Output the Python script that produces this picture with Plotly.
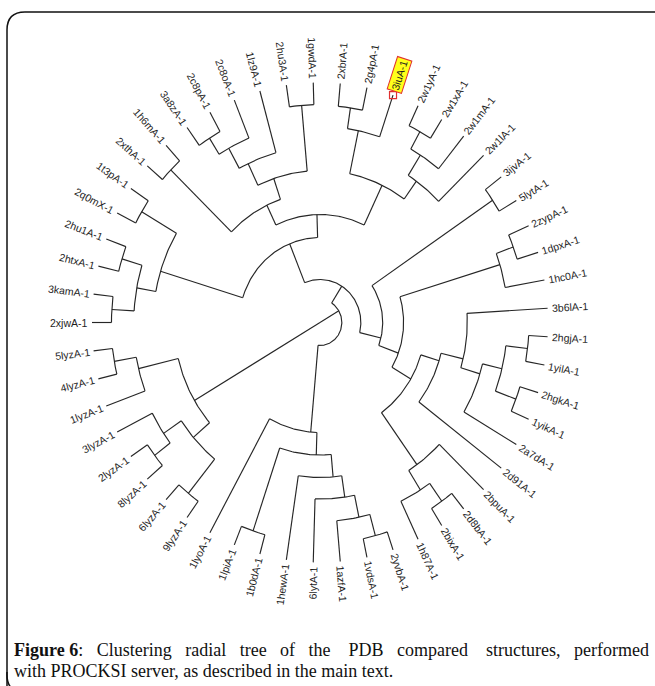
import math
import plotly.graph_objects as go

# ---------------- data ----------------
# leaves in clockwise display order (starting at the 9 o'clock position)
leaf_labels = [
    "2xjwA-1", "3kamA-1", "2htxA-1", "2hu1A-1", "2q0mX-1", "1t3pA-1", "2xthA-1",
    "1h6mA-1", "3a8zA-1", "2c8pA-1", "2c8oA-1", "1lz9A-1", "2hu3A-1", "1gwdA-1",
    "2xbrA-1", "2g4pA-1", "3iuA-1", "2w1yA-1", "2w1xA-1", "2w1mA-1", "2w1lA-1",
    "3ijvA-1", "5lytA-1", "2zypA-1", "1dpxA-1", "1hc0A-1", "3b6lA-1", "2hgjA-1",
    "1yilA-1", "2hgkA-1", "1yikA-1", "2a7dA-1", "2d91A-1", "2bpuA-1", "2d8bA-1",
    "2bixA-1", "1h87A-1", "2yvbA-1", "1vdsA-1", "1azfA-1", "6lytA-1", "1hewA-1",
    "1b0dA-1", "1lpiA-1", "1lyoA-1", "9lyzA-1", "6lyzA-1", "8lyzA-1", "2lyzA-1",
    "3lyzA-1", "1lyzA-1", "4lyzA-1", "5lyzA-1",
]

# cluster merges: node name, its two children, depth of the merge (root = 0, leaves = 240)
merge_names = [
    "n15", "n14", "n16", "n13", "n17", "n6", "n2", "n3", "n4", "n1", "n5", "m",
    "n7", "n8", "n9", "n10", "n11", "n12", "t", "u",
    "g1", "n18", "g3", "n19", "n20", "g9", "g8", "g7", "g5", "g11", "g10", "g6",
    "g4", "g2", "w", "v",
    "b7", "b6", "b5", "b4", "b3", "b2", "b", "x",
    "ly10", "ly8", "ly7", "ly9", "ly3", "ly4", "ly", "root",
]
merge_children = [
    ("2xjwA-1", "3kamA-1"), ("2htxA-1", "2hu1A-1"), ("n15", "n14"),
    ("2q0mX-1", "1t3pA-1"), ("n16", "n13"), ("2xthA-1", "1h6mA-1"),
    ("3a8zA-1", "2c8pA-1"), ("n2", "2c8oA-1"), ("n3", "1lz9A-1"),
    ("2hu3A-1", "1gwdA-1"), ("n4", "n1"), ("n6", "n5"),
    ("2xbrA-1", "2g4pA-1"), ("n7", "3iuA-1"), ("2w1yA-1", "2w1xA-1"),
    ("n9", "2w1mA-1"), ("n10", "2w1lA-1"), ("n8", "n11"), ("m", "n12"),
    ("n17", "t"),
    ("3ijvA-1", "5lytA-1"), ("2zypA-1", "1dpxA-1"), ("n18", "1hc0A-1"),
    ("2hgjA-1", "1yilA-1"), ("2hgkA-1", "1yikA-1"), ("n19", "n20"),
    ("g9", "2a7dA-1"), ("3b6lA-1", "g8"), ("g7", "2d91A-1"),
    ("2d8bA-1", "2bixA-1"), ("g11", "1h87A-1"), ("2bpuA-1", "g10"),
    ("g5", "g6"), ("g3", "g4"), ("g1", "g2"), ("u", "w"),
    ("2yvbA-1", "1vdsA-1"), ("b7", "1azfA-1"), ("b6", "6lytA-1"),
    ("b5", "1hewA-1"), ("1b0dA-1", "1lpiA-1"), ("b4", "b3"), ("b2", "1lyoA-1"),
    ("v", "b"),
    ("9lyzA-1", "6lyzA-1"), ("8lyzA-1", "2lyzA-1"), ("ly8", "3lyzA-1"),
    ("ly10", "ly7"), ("4lyzA-1", "5lyzA-1"), ("1lyzA-1", "ly3"), ("ly9", "ly4"),
    ("x", "ly"),
]
merge_depth = [
    219.5, 218, 196, 218, 175.5, 219, 218, 199, 176, 218, 152, 130,
    217, 196, 218, 198, 174, 152, 108, 85,
    219, 217, 198, 220, 220, 197, 176, 155, 131, 220, 198, 175,
    111, 88, 66, 43,
    221, 199, 176.5, 155, 220, 132.5, 110, 23,
    220, 219, 198.5, 176, 220, 196.5, 153.5, 0,
]
leaf_depth = 240.0
highlight_leaf = "3iuA-1"

caption_title = "Figure 6"
caption_line1_words = ["Clustering", "radial", "tree", "of", "the", "PDB",
                       "compared", "structures,", "performed"]
caption_line2 = "with PROCKSI server, as described in the main text."

# ---------------- layout of the radial tree ----------------
W, H = 655, 686
CX, CY = 320.0, 322.5      # centre of the tree in pixels
SX = 0.95                  # horizontal squeeze of the drawing

n = len(leaf_labels)
step = 360.0 / n
depth = {name: leaf_depth for name in leaf_labels}
span = {name: (i, i) for i, name in enumerate(leaf_labels)}
children = {}
for name, ch, d in zip(merge_names, merge_children, merge_depth):
    depth[name] = d
    children[name] = ch
    span[name] = (min(span[c][0] for c in ch), max(span[c][1] for c in ch))


def angle(name):
    lo, hi = span[name]
    return 180.0 - step * (lo + hi) / 2.0


xs, ys = [], []
for name in merge_names:
    r = depth[name]
    cang = [angle(c) for c in children[name]]
    a0, a1 = min(cang), max(cang)
    if r > 0:
        m = max(2, int(abs(a1 - a0) / 0.75) + 1)
        for j in range(m + 1):
            t = math.radians(a0 + (a1 - a0) * j / m)
            xs.append(r * math.cos(t))
            ys.append(r * math.sin(t))
        xs.append(None)
        ys.append(None)
    for c in children[name]:
        t = math.radians(angle(c))
        xs += [r * math.cos(t), depth[c] * math.cos(t), None]
        ys += [r * math.sin(t), depth[c] * math.sin(t), None]

fig = go.Figure()
fig.add_trace(go.Scatter(x=xs, y=ys, mode="lines",
                         line=dict(color="#262626", width=1.15),
                         hoverinfo="skip", showlegend=False))

# ---------------- leaf labels ----------------
CW = {"A": .667, "X": .667, "-": .333, "a": .556, "b": .556, "c": .5, "d": .556,
      "e": .556, "f": .278, "g": .556, "h": .556, "i": .222, "j": .222, "k": .5,
      "l": .222, "m": .833, "n": .556, "o": .556, "p": .556, "q": .556, "r": .333,
      "s": .5, "t": .278, "u": .556, "v": .5, "w": .722, "x": .5, "y": .5, "z": .5}
FS = 10.5
GAP = 4.0


def text_width(s):
    return sum(CW.get(ch, .556) for ch in s) * FS


annotations = []
for i, name in enumerate(leaf_labels):
    a = math.radians(angle(name))
    lx, ly = leaf_depth * math.cos(a), leaf_depth * math.sin(a)
    ux, uy = SX * math.cos(a), math.sin(a)
    phi = math.degrees(math.atan2(uy, ux))
    rightside = math.cos(a) >= 0
    ta = -phi if rightside else -(phi + 180.0)
    while ta > 180:
        ta -= 360
    while ta <= -180:
        ta += 360
    d = GAP + text_width(name) / 2.0 + (2.0 if name == highlight_leaf else 0)
    ann = dict(x=lx, y=ly, xref="x", yref="y", text=name, showarrow=False,
               xanchor="center", yanchor="middle", textangle=ta,
               xshift=d * math.cos(math.radians(phi)),
               yshift=d * math.sin(math.radians(phi)),
               font=dict(family="Liberation Sans, Arial, sans-serif", size=FS,
                         color="#1e1e1e"))
    if name == highlight_leaf:
        ann.update(bgcolor="#ffff1a", bordercolor="#e0302f", borderwidth=1,
                   borderpad=1)
        fig.add_trace(go.Scatter(x=[lx], y=[ly], mode="markers",
                                 marker=dict(symbol="square-open", size=7,
                                             color="#e0302f",
                                             line=dict(width=1.2)),
                                 hoverinfo="skip", showlegend=False))
    annotations.append(ann)

# ---------------- caption ----------------
NB = "\u00a0"
gap_sizes = [2, 2, 2, 2, 3, 2, 3, 2]
line1 = "<b>" + caption_title + "</b>:" + " " + NB * 2
for k, wd in enumerate(caption_line1_words):
    line1 += wd
    if k < len(caption_line1_words) - 1:
        line1 += " " + NB * gap_sizes[k]
annotations.append(dict(x=12 / W, y=1 - 650 / H, xref="paper", yref="paper",
                        text=line1, showarrow=False, xanchor="left",
                        yanchor="middle",
                        font=dict(family="Liberation Serif, Times New Roman, serif",
                                  size=18, color="#111111")))
annotations.append(dict(x=12 / W, y=1 - 671 / H, xref="paper", yref="paper",
                        text=caption_line2, showarrow=False, xanchor="left",
                        yanchor="middle",
                        font=dict(family="Liberation Serif, Times New Roman, serif",
                                  size=18, color="#111111")))

# ---------------- frame ----------------
rad = 18
frame_path = (f"M {7/W},{1-692/H} L {7/W},{1-(12+rad)/H} "
              f"Q {7/W},{1-12/H} {(7+rad)/W},{1-12/H} L {700/W},{1-12/H}")
shapes = [dict(type="path", xref="paper", yref="paper", path=frame_path,
               line=dict(color="#111111", width=1.5))]
shapes.append(dict(type="path", xref="paper", yref="paper",
                   path=f"M {7/W},{1-672/H} Q {6/W},{1-690/H} {20/W},{1-692/H}",
                   line=dict(color="#111111", width=1.5)))

fig.update_layout(
    width=W, height=H, margin=dict(l=0, r=0, t=0, b=0),
    paper_bgcolor="white", plot_bgcolor="white",
    xaxis=dict(range=[-CX / SX, (W - CX) / SX], visible=False, fixedrange=True),
    yaxis=dict(range=[-(H - CY), CY], visible=False, fixedrange=True),
    annotations=annotations, shapes=shapes, showlegend=False,
)

fig.write_html("out.html", config={"displayModeBar": False})
